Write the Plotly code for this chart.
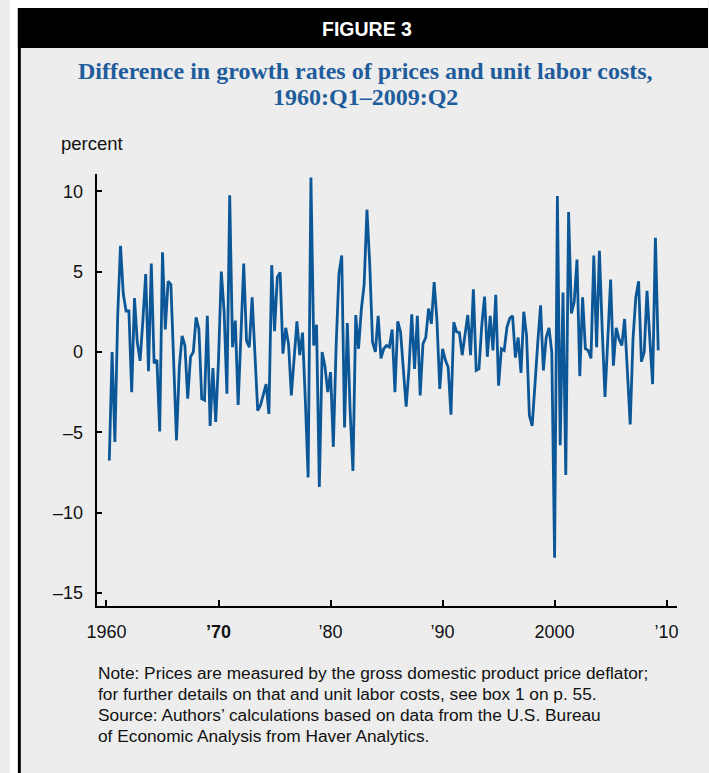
import plotly.graph_objects as go

W, H = 709, 773

# Difference in growth rates of prices and unit labor costs (percent), quarterly from 1960:Q1
values = [
    -6.75, 0.0, -5.6, 2.25, 6.6, 3.6, 2.55, 2.55, -2.5, 3.35,
    0.6, -0.55, 2.0, 4.85, -1.2, 5.5, -0.7, -0.5, -4.95, 6.2,
    1.4, 4.4, 4.2, -0.5, -5.5, -0.95, 1.0, 0.4, -2.9, -0.3,
    0.0, 2.15, 1.4, -2.9, -3.0, 2.25, -4.6, -1.0, -4.35, -0.5,
    5.0, 2.5, -2.6, 9.75, 0.3, 1.95, -3.3, 1.0, 5.5, 0.7,
    0.3, 3.4, 0.0, -3.65, -3.3, -2.7, -2.0, -3.85, 5.4, 1.3,
    4.65, 4.95, -0.1, 1.5, 0.5, -2.7, -0.4, 1.9, -0.2, 1.2,
    -3.0, -7.8, 10.85, 0.4, 1.7, -8.4, 0.0, -0.9, -2.5, -1.25,
    -5.9, 0.4, 4.85, 6.0, -4.7, 1.8, -3.7, -7.4, 2.3, 0.2,
    2.65, 4.2, 8.85, 5.45, 0.6, 0.0, 2.25, -0.4, 0.2, 0.4,
    0.3, 1.4, -2.5, 1.9, 1.25, -1.05, -3.4, -1.05, 2.35, -1.05,
    2.25, -2.7, 0.5, 0.9, 2.7, 1.75, 4.35, 1.95, -2.3, 0.2,
    -0.5, -0.95, -3.9, 1.85, 1.25, 1.2, -0.2, 1.05, 2.3, -0.2,
    3.9, -1.15, -1.05, 1.65, 3.45, -0.3, 2.25, 0.1, 3.55, -2.1,
    0.2, 0.1, 1.55, 2.1, 2.25, -0.35, 0.9, -1.3, 2.5, 1.0,
    -3.95, -4.6, -1.85, 0.6, 2.9, -1.15, 0.9, 1.5, 0.0, -12.8,
    9.7, -5.8, 3.7, -7.65, 8.7, 2.4, 3.1, 5.75, -1.5, 3.4,
    0.2, 0.1, -0.4, 6.0, 0.3, 6.3, 1.4, -2.8, 0.8, 4.5,
    -0.85, 1.5, 0.8, 0.4, 2.05, -1.0, -4.5, 0.8, 3.4, 4.4,
    -0.6, 0.0, 3.8, 0.8, -2.0, 7.1, 0.1,
]
start_year = 1960
quarters = [f"{start_year + i // 4}:Q{i % 4 + 1}" for i in range(len(values))]
x_time = [start_year + i // 4 + (i % 4 + 1) / 4 for i in range(len(values))]

x_tick_vals = [1960, 1970, 1980, 1990, 2000, 2010]
x_tick_text = ["1960", "<b>\u201970</b>", "\u201980", "\u201990", "2000", "\u201910"]
y_tick_vals = [-15, -10, -5, 0, 5, 10]
y_tick_text = ["\u201315", "\u201310", "\u20135", "0", "5", "10"]

title_lines = ["Difference in growth rates of prices and unit labor costs,",
               "1960:Q1\u20132009:Q2"]
note_lines = [
    "Note: Prices are measured by the gross domestic product price deflator;",
    "for further details on that and unit labor costs, see box 1 on p. 55.",
    "Source: Authors\u2019 calculations based on data from the U.S. Bureau",
    "of Economic Analysis from Haver Analytics.",
]

SANS = "Liberation Sans, Arial, Helvetica, sans-serif"
SERIF = "Liberation Serif, Times New Roman, serif"
BLUE_TITLE = "#1f5c9c"
LINE_BLUE = "#0b5797"
BG = "#ededed"


def px(x):
    return x / W


def py(y):
    return 1 - y / H


fig = go.Figure()
fig.add_trace(go.Scatter(
    x=x_time, y=values, mode="lines", text=quarters,
    line=dict(color=LINE_BLUE, width=2.8),
    hovertemplate="%{text}: %{y}<extra></extra>",
))

shapes = [
    dict(type="rect", xref="paper", yref="paper", x0=0, x1=1, y0=py(8), y1=1,
         fillcolor="white", line_width=0, layer="below"),
    dict(type="rect", xref="paper", yref="paper", x0=0, x1=px(8), y0=0, y1=1,
         fillcolor="white", line_width=0, layer="below"),
    dict(type="rect", xref="paper", yref="paper", x0=px(8), x1=1, y0=py(48), y1=py(8),
         fillcolor="black", line_width=0, layer="below"),
    dict(type="rect", xref="paper", yref="paper", x0=px(8), x1=px(11), y0=0, y1=py(8),
         fillcolor="black", line_width=0, layer="below"),
]

annotations = [
    dict(text="<b>FIGURE 3</b>", x=px(363), y=py(29), xref="paper", yref="paper",
         xanchor="center", yanchor="middle", showarrow=False,
         font=dict(family=SANS, size=19.5, color="white")),
    dict(text="<b>" + title_lines[0] + "</b>", x=px(361), y=py(71), xref="paper", yref="paper",
         xanchor="center", yanchor="middle", showarrow=False,
         font=dict(family=SERIF, size=24, color=BLUE_TITLE)),
    dict(text="<b>" + title_lines[1] + "</b>", x=px(361), y=py(97), xref="paper", yref="paper",
         xanchor="center", yanchor="middle", showarrow=False,
         font=dict(family=SERIF, size=24, color=BLUE_TITLE)),
    dict(text="percent", x=px(50), y=py(143), xref="paper", yref="paper",
         xanchor="left", yanchor="middle", showarrow=False,
         font=dict(family=SANS, size=18.5, color="#111111")),
]
for line, yy in zip(note_lines, [673, 694, 715, 736]):
    annotations.append(dict(text=line, x=px(87), y=py(yy), xref="paper", yref="paper",
                            xanchor="left", yanchor="middle", showarrow=False,
                            font=dict(family=SANS, size=17.3, color="#111111")))

fig.update_layout(
    width=W, height=H,
    margin=dict(l=0, r=0, t=0, b=0),
    paper_bgcolor=BG, plot_bgcolor=BG,
    showlegend=False,
    shapes=shapes,
    annotations=annotations,
    xaxis=dict(
        domain=[px(88), px(678)], range=[1959.12, 2010.97],
        showline=True, linecolor="black", linewidth=2, mirror=False,
        ticks="inside", ticklen=6, tickwidth=2, tickcolor="black",
        tickvals=x_tick_vals, ticktext=x_tick_text,
        tickfont=dict(family=SANS, size=18, color="#111111"),
        ticklabelstandoff=8,
        showgrid=False, zeroline=False, fixedrange=True,
    ),
    yaxis=dict(
        domain=[py(606), py(174)], range=[-15.8, 11.07],
        showline=True, linecolor="black", linewidth=2,
        ticks="inside", ticklen=5, tickwidth=2, tickcolor="black",
        tickvals=y_tick_vals, ticktext=y_tick_text,
        tickfont=dict(family=SANS, size=18, color="#111111"),
        ticklabelstandoff=8,
        showgrid=False, zeroline=False, fixedrange=True,
    ),
)

fig.write_html(
    "out.html",
    config={"displayModeBar": False},
    post_script="document.body.style.margin='0';document.body.style.overflow='hidden';",
)
